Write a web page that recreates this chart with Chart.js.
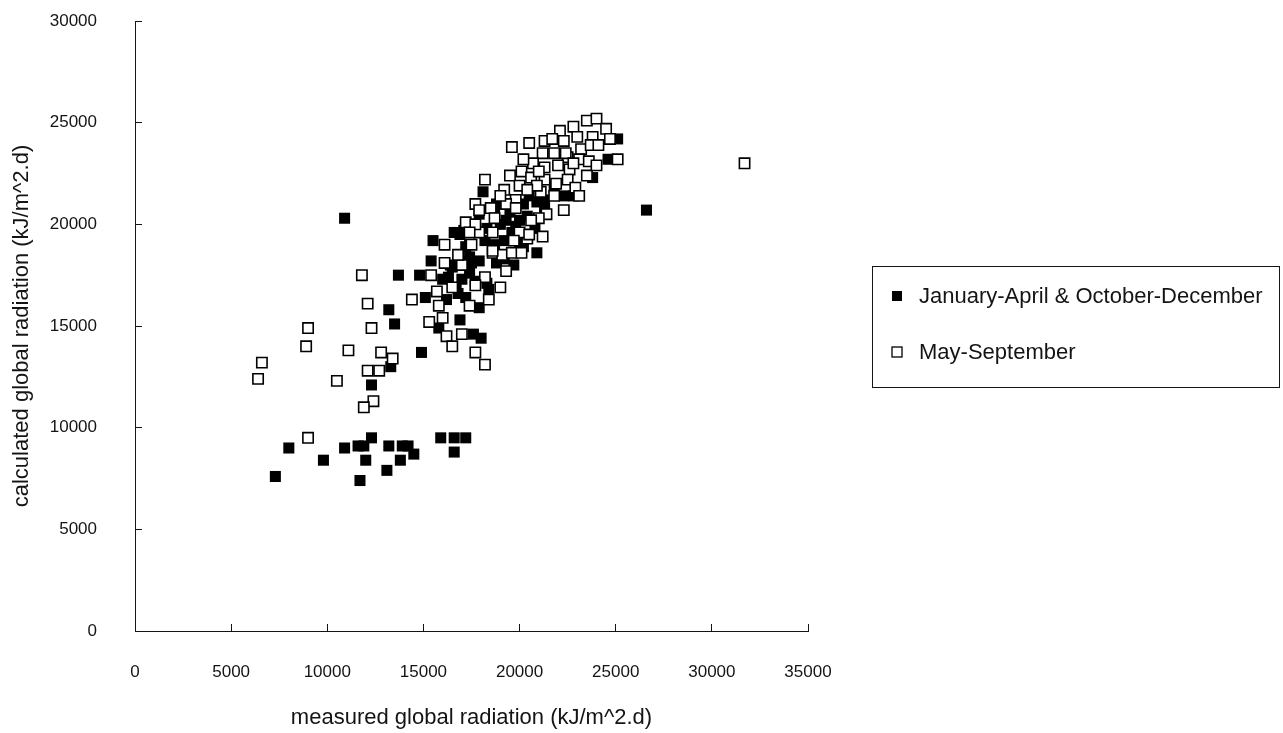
<!DOCTYPE html>
<html>
<head>
<meta charset="utf-8">
<title>Global radiation: measured vs calculated</title>
<script src="https://cdn.jsdelivr.net/npm/chart.js@4.4.0/dist/chart.umd.min.js"></script>
<style>
  html, body { margin: 0; padding: 0; background: #fff; }
  #wrap { width: 1283px; height: 733px; }
</style>
</head>
<body>
<div id="wrap"><canvas id="radChart" width="1283" height="733"></canvas></div>
<script>
// series labels
const coldLabel = 'January-April & October-December';
const warmLabel = 'May-September';

// January-April & October-December (filled squares)
const coldMeasured = [
  7300, 8000, 9800, 10900, 11600, 11900, 12300, 13200, 13900, 14200,
  14500, 12000, 13800, 13100, 11700, 15900, 16600, 16600, 17200, 10900,
  12300, 13300, 13200, 13500, 13700, 14800, 14900, 15100, 15500, 16300,
  16400, 17000, 16900, 17400, 16700, 16800, 16900, 15800, 17900, 17600,
  18000, 17700, 17500, 18400, 18800, 18100, 17100, 17200, 17900, 17400,
  18300, 19800, 20400, 20900, 19300, 18700, 19000, 19600, 20200, 20900,
  20000, 20500, 22300, 23800, 24600, 25100, 26600, 21300, 19200, 18200,
  16500, 17000, 17200, 16600, 17400, 18700, 19200, 19700, 18800, 19500,
  20200, 20000, 20800, 21300, 21800, 22800, 17900, 18300, 16000, 15400,
  16200
];
const coldCalculated = [
  7600, 9000, 8400, 9000, 9100, 9100, 9500, 9100, 9100, 9100,
  8700, 8400, 8400, 7900, 7400, 9500, 8800, 9500, 9500, 20300,
  12100, 13000, 15800, 15100, 17500, 17500, 13700, 16400, 19200, 17400,
  18000, 18200, 19500, 18400, 16900, 16600, 15300, 14900, 15900, 14600,
  14400, 17200, 18100, 16800, 18100, 21600, 19700, 18900, 18200, 17600,
  17100, 19900, 20400, 21100, 20200, 20600, 20000, 19600, 18900, 18600,
  19100, 21400, 21400, 22300, 23200, 24200, 20700, 20700, 19200, 19200,
  17900, 17300, 16400, 19600, 19000, 19000, 18300, 18000, 21000, 20600,
  21000, 20200, 19800, 21200, 21800, 21400, 20500, 19800, 17300, 18200,
  16300
];

// May-September (open squares)
const warmMeasured = [
  6400, 6600, 8900, 9000, 9000, 10500, 11100, 12100, 11800, 12300,
  12800, 13400, 12100, 12700, 12400, 11900, 14400, 15300, 15400, 15800,
  16000, 16200, 16500, 17000, 17700, 18200, 16500, 16100, 16100, 15700,
  17200, 17500, 17700, 18200, 19000, 19300, 18600, 19100, 19600, 20100,
  17900, 20400, 21200, 17000, 17700, 18600, 19800, 21100,
  19600, 20500, 21300, 22100, 22800, 23500, 24000, 24500, 22300, 23000,
  23800, 23200, 23700, 21200, 21800, 22500, 23100, 23600, 25100, 20700,
  21300, 22000, 22600, 23500, 20100, 19500, 18200, 20600, 21300, 21900,
  22500, 22900, 20900, 20000, 19200, 21800, 19800, 19300, 18500, 17900,
  19800, 22300, 21400, 21000, 20600, 17700, 18700, 18600, 20000, 20500,
  22400, 22800, 31700, 20200, 21000, 21700, 24100, 24700, 24000, 23100,
  19000, 20400, 19700, 17400, 16800, 18400, 17400
];
const warmCalculated = [
  12400, 13200, 14000, 14900, 9500, 12300, 13800, 16100, 17500, 14900,
  13700, 13400, 12800, 12800, 11300, 11000, 16300, 15200, 17500, 16000,
  15400, 14500, 14000, 14600, 13700, 13100, 16900, 19000, 18100, 16700,
  20100, 19000, 21000, 17400, 16900, 17700, 18600, 18500, 18600, 18600,
  19600, 19300, 19400, 18000, 17000, 18700, 21000, 21600,
  23800, 24000, 24100, 24600, 24800, 25100, 25200, 24700, 24100, 24300,
  24300, 23700, 23900, 23500, 23500, 23300, 23200, 23100, 23200, 23000,
  22800, 22900, 22700, 22400, 22600, 22400, 22200, 22300, 22200, 22000,
  22200, 21800, 21900, 21900, 21700, 21400, 21200, 21000, 20800, 20700,
  20800, 20700, 20500, 20300, 20200, 20000, 20300, 19600, 19600, 19500,
  23500, 23000, 23000, 23200, 22600, 24200, 23900, 24200, 22900, 21400,
  21400, 21700, 19200, 19600, 18500, 16300, 16000
];

// axis ticks and titles
const xTicks = [0, 5000, 10000, 15000, 20000, 25000, 30000, 35000];
const yTicks = [0, 5000, 10000, 15000, 20000, 25000, 30000];
const xTitle = 'measured global radiation (kJ/m^2.d)';
const yTitle = 'calculated global radiation (kJ/m^2.d)';

const FONT = '"Liberation Sans", Arial, Helvetica, sans-serif';
const INK = '#141414';

function pairs(xs, ys) {
  return xs.map((x, i) => ({ x: x, y: ys[i] }));
}

// framed legend to the right of the plot
const boxLegend = {
  id: 'boxLegend',
  afterDraw(chart, args, o) {
    const ctx = chart.ctx;
    ctx.save();
    ctx.strokeStyle = INK;
    ctx.lineWidth = 1;
    ctx.strokeRect(o.left + 0.5, o.top + 0.5, o.width, o.height);
    ctx.font = o.fontSize + 'px ' + FONT;
    ctx.textBaseline = 'middle';
    ctx.textAlign = 'left';
    chart.data.datasets.forEach((ds, i) => {
      const cy = o.top + o.firstRow + i * o.rowGap;
      const cx = o.left + o.markerX;
      const s = o.markerSize;
      ctx.fillStyle = ds.backgroundColor;
      ctx.fillRect(cx - s / 2, cy - s / 2, s, s);
      if (ds.borderWidth) {
        ctx.lineWidth = 1.3;
        ctx.strokeStyle = ds.borderColor;
        ctx.strokeRect(cx - s / 2, cy - s / 2, s, s);
      }
      ctx.fillStyle = INK;
      ctx.fillText(ds.label, o.left + o.textX, cy + 1);
    });
    ctx.restore();
  }
};

new Chart(document.getElementById('radChart'), {
  type: 'scatter',
  data: {
    datasets: [
      {
        label: coldLabel,
        data: pairs(coldMeasured, coldCalculated),
        pointStyle: 'rect',
        pointRadius: 7.8,
        backgroundColor: '#000',
        borderColor: '#000',
        borderWidth: 0,
        order: 1
      },
      {
        label: warmLabel,
        data: pairs(warmMeasured, warmCalculated),
        pointStyle: 'rect',
        pointRadius: 7.3,
        backgroundColor: '#fff',
        borderColor: '#000',
        borderWidth: 1.6,
        order: 0
      }
    ]
  },
  options: {
    responsive: false,
    animation: false,
    devicePixelRatio: 1,
    events: [],
    layout: { padding: { left: 0, top: 21, right: 475, bottom: 0 } },
    plugins: {
      legend: { display: false },
      tooltip: { enabled: false },
      boxLegend: {
        left: 872, top: 266, width: 407, height: 121,
        firstRow: 30, rowGap: 56, markerX: 25, markerSize: 10,
        textX: 47, fontSize: 22
      }
    },
    scales: {
      x: {
        type: 'linear',
        min: 0,
        max: 35000,
        afterBuildTicks: s => { s.ticks = xTicks.map(v => ({ value: v })); },
        afterFit: s => { s.height = 102; },
        border: { display: true, color: INK, width: 1 },
        grid: { drawOnChartArea: false, drawTicks: true, tickLength: -7, color: INK },
        ticks: {
          maxRotation: 0, autoSkip: false, padding: 38, color: INK,
          font: { family: FONT, size: 17 },
          callback: v => String(v)
        },
        title: {
          display: true, text: xTitle, color: INK,
          font: { family: FONT, size: 22 },
          padding: { top: 0, bottom: 2 }
        }
      },
      y: {
        type: 'linear',
        min: 0,
        max: 30000,
        afterBuildTicks: s => { s.ticks = yTicks.map(v => ({ value: v })); },
        // keep the label gap from pushing the plot top down
        afterFit: s => { s.width = 135; s.paddingTop = 10; s.paddingBottom = 10; },
        border: { display: true, color: INK, width: 1 },
        grid: { drawOnChartArea: false, drawTicks: true, tickLength: -7, color: INK },
        ticks: {
          padding: 45, color: INK,
          font: { family: FONT, size: 17 },
          callback: v => String(v)
        },
        title: {
          display: true, text: yTitle, color: INK,
          font: { family: FONT, size: 22 },
          padding: { top: 9, bottom: 0 }
        }
      }
    }
  },
  plugins: [boxLegend]
});
</script>
</body>
</html>
